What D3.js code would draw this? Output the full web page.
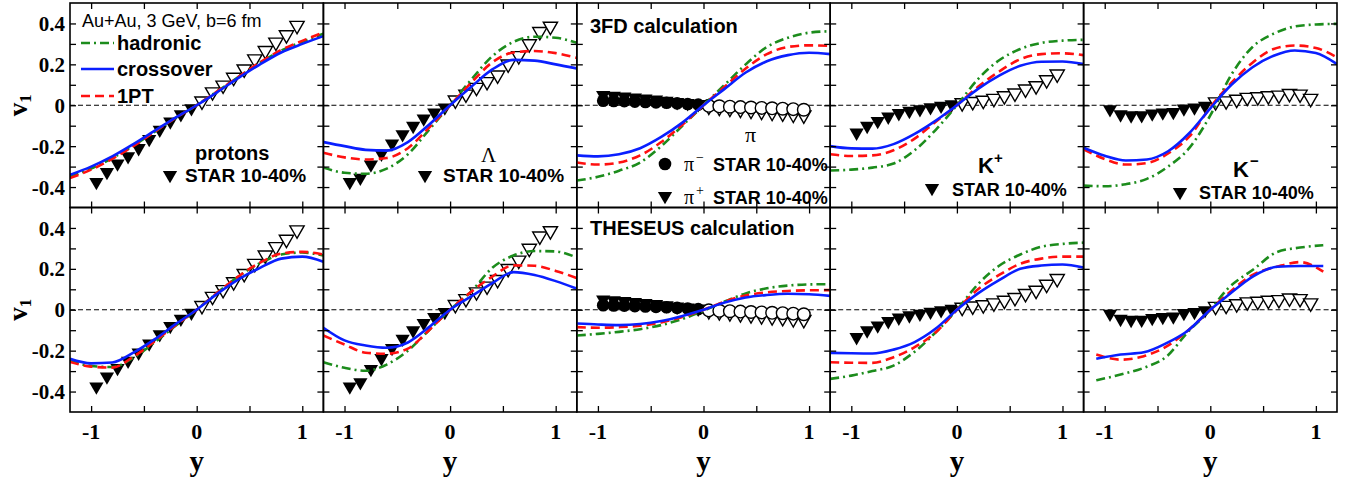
<!DOCTYPE html>
<html>
<head>
<meta charset="utf-8">
<script src="https://cdn.jsdelivr.net/npm/d3@7"></script>
<style>
  body { margin: 0; background: #fff; }
  svg { display: block; }
</style>
</head>
<body>
<svg id="chart" width="1361" height="480"></svg>
<script>
// rapidity grid of the model curves
const yGrid = [-1.2, -1.0, -0.8, -0.6, -0.4, -0.2, 0, 0.2, 0.4, 0.6, 0.8, 1.0, 1.2];
const yGridKmTh = [-1.08, -0.85, -0.63, -0.41, -0.22, 0, 0.16, 0.41, 0.63, 0.85, 1.07];

// 3FD curves (top row)
const prot3fdHad = [-0.35, -0.31, -0.258, -0.197, -0.13, -0.062, 0, 0.07, 0.14, 0.208, 0.267, 0.31, 0.35];
const prot3fdCross = [-0.34, -0.30, -0.25, -0.19, -0.125, -0.06, 0, 0.066, 0.135, 0.2, 0.258, 0.3, 0.338];
const prot3fd1pt = [-0.356, -0.315, -0.262, -0.2, -0.13, -0.062, 0, 0.07, 0.14, 0.21, 0.27, 0.315, 0.356];
const lam3fdHad = [-0.305, -0.33, -0.335, -0.31, -0.24, -0.12, 0, 0.125, 0.24, 0.31, 0.335, 0.33, 0.305];
const lam3fdCross = [-0.18, -0.2, -0.218, -0.222, -0.18, -0.095, 0, 0.09, 0.175, 0.222, 0.218, 0.2, 0.18];
const lam3fd1pt = [-0.232, -0.255, -0.265, -0.258, -0.21, -0.11, 0, 0.11, 0.21, 0.258, 0.265, 0.255, 0.232];
const pi3fdHad = [-0.368, -0.35, -0.32, -0.28, -0.2, -0.1, 0, 0.1, 0.2, 0.285, 0.33, 0.355, 0.362];
const pi3fdCross = [-0.245, -0.25, -0.24, -0.21, -0.155, -0.085, 0, 0.08, 0.16, 0.215, 0.245, 0.257, 0.25];
const pi3fd1pt = [-0.28, -0.29, -0.28, -0.245, -0.18, -0.095, 0, 0.09, 0.18, 0.25, 0.285, 0.293, 0.29];
const kp3fdHad = [-0.319, -0.315, -0.305, -0.285, -0.22, -0.12, 0, 0.128, 0.22, 0.275, 0.305, 0.316, 0.32];
const kp3fdCross = [-0.2, -0.211, -0.212, -0.19, -0.14, -0.075, 0, 0.08, 0.145, 0.193, 0.213, 0.214, 0.201];
const kp3fd1pt = [-0.24, -0.248, -0.245, -0.22, -0.163, -0.08, 0, 0.09, 0.165, 0.225, 0.25, 0.254, 0.245];
const km3fdHad = [-0.393, -0.396, -0.386, -0.36, -0.3, -0.21, -0.05, 0.15, 0.285, 0.35, 0.385, 0.395, 0.398];
const km3fdCross = [-0.208, -0.247, -0.27, -0.265, -0.225, -0.137, -0.015, 0.1, 0.186, 0.242, 0.268, 0.255, 0.201];
const km3fd1pt = [-0.216, -0.263, -0.29, -0.283, -0.236, -0.154, -0.01, 0.11, 0.208, 0.275, 0.292, 0.28, 0.234];

// THESEUS curves (bottom row)
const protThHad = [-0.25, -0.275, -0.28, -0.235, -0.16, -0.078, 0, 0.085, 0.165, 0.228, 0.27, 0.28, 0.265];
const protThCross = [-0.24, -0.262, -0.258, -0.21, -0.145, -0.07, 0, 0.08, 0.15, 0.205, 0.25, 0.26, 0.235];
const protTh1pt = [-0.255, -0.278, -0.283, -0.23, -0.155, -0.075, 0, 0.085, 0.165, 0.23, 0.275, 0.283, 0.27];
const lamThHad = [-0.257, -0.284, -0.298, -0.268, -0.2, -0.1, 0, 0.09, 0.205, 0.265, 0.287, 0.285, 0.255];
const lamThCross = [-0.088, -0.15, -0.175, -0.186, -0.16, -0.085, 0, 0.065, 0.13, 0.184, 0.17, 0.14, 0.103];
const lamTh1pt = [-0.126, -0.17, -0.21, -0.215, -0.19, -0.1, 0, 0.088, 0.162, 0.217, 0.215, 0.19, 0.155];
const piThHad = [-0.126, -0.118, -0.108, -0.095, -0.075, -0.045, -0.005, 0.04, 0.08, 0.105, 0.118, 0.124, 0.125];
const piThCross = [-0.067, -0.072, -0.075, -0.07, -0.055, -0.03, 0, 0.035, 0.06, 0.072, 0.078, 0.076, 0.068];
const piTh1pt = [-0.085, -0.088, -0.085, -0.078, -0.062, -0.035, 0, 0.04, 0.07, 0.085, 0.092, 0.095, 0.096];
const kpThHad = [-0.338, -0.322, -0.3, -0.273, -0.205, -0.11, 0, 0.125, 0.215, 0.27, 0.308, 0.322, 0.328];
const kpThCross = [-0.211, -0.213, -0.214, -0.195, -0.158, -0.092, 0, 0.08, 0.145, 0.2, 0.216, 0.221, 0.206];
const kpTh1pt = [-0.257, -0.259, -0.26, -0.232, -0.183, -0.11, 0, 0.1, 0.17, 0.225, 0.25, 0.26, 0.26];
const kmThHad = [-0.345, -0.317, -0.284, -0.227, -0.113, 0, 0.1, 0.198, 0.282, 0.304, 0.316];
const kmThCross = [-0.24, -0.219, -0.208, -0.162, -0.105, 0, 0.067, 0.165, 0.21, 0.214, 0.214];
const kmTh1pt = [-0.219, -0.244, -0.227, -0.178, -0.105, 0, 0.075, 0.173, 0.21, 0.233, 0.186];

// STAR 10-40% points: measured (y<0) and reflected (y>0)
const starY = [-0.95, -0.85, -0.75, -0.65, -0.55, -0.45, -0.35, -0.25, -0.15, -0.05];
const starYRefl = [0.05, 0.15, 0.25, 0.35, 0.45, 0.55, 0.65, 0.75, 0.85, 0.95];
const protonV1 = [-0.376, -0.327, -0.285, -0.25, -0.21, -0.165, -0.12, -0.08, -0.044, -0.015];
const protonV1Refl = [0.02, 0.065, 0.098, 0.136, 0.177, 0.226, 0.267, 0.308, 0.344, 0.39];
const lambdaV1 = [-0.376, -0.355, -0.29, -0.237, -0.187, -0.142, -0.101, -0.065, -0.036, -0.011];
const lambdaV1Refl = [0.025, 0.054, 0.087, 0.115, 0.147, 0.201, 0.242, 0.3, 0.36, 0.386];
const piMinusV1 = [0.022, 0.021, 0.02, 0.018, 0.016, 0.014, 0.012, 0.009, 0.006, 0.003];
const piMinusV1Refl = [-0.003, -0.005, -0.007, -0.009, -0.011, -0.013, -0.015, -0.017, -0.019, -0.022];
const piPlusV1 = [0.05, 0.046, 0.042, 0.037, 0.032, 0.027, 0.021, 0.015, 0.01, 0.005];
const piPlusV1Refl = [-0.005, -0.01, -0.015, -0.02, -0.025, -0.03, -0.035, -0.039, -0.044, -0.048];
const kPlusV1 = [-0.134, -0.101, -0.077, -0.056, -0.039, -0.028, -0.02, -0.01, -0.003, 0.004];
const kPlusV1Refl = [0.012, 0.018, 0.024, 0.033, 0.046, 0.059, 0.079, 0.095, 0.124, 0.152];
const kMinusV1 = [-0.02, -0.045, -0.05, -0.049, -0.041, -0.036, -0.033, -0.016, -0.011, -0.003];
const kMinusV1Refl = [0.016, 0.021, 0.029, 0.038, 0.041, 0.046, 0.049, 0.057, 0.054, 0.033];

const xTicks = [-1, -0.5, 0, 0.5, 1];
const xTickLabels = [-1, 0, 1];
const yTicks = [-0.4, -0.3, -0.2, -0.1, 0, 0.1, 0.2, 0.3, 0.4];
const yTickLabels = [-0.4, -0.2, 0, 0.2, 0.4];

const colors = { had: "#1c8c1c", cross: "#0a1fff", pt: "#ff1010" };
const dashes = { had: "9,4,2,4", cross: null, pt: "9,5" };

const svg = d3.select("#chart");
const left0 = 70, top0 = 3, panelW = 253.4, panelH = 204.5;
const serif = "'Liberation Serif', 'Times New Roman', serif";
const sans = "'Liberation Sans', Arial, sans-serif";

const zip = (xs, vs) => xs.map((d, i) => ({ y: d, v: vs[i] }));

const panels = [
  { row: 0, col: 0, grid: yGrid, had: prot3fdHad, cross: prot3fdCross, pt: prot3fd1pt,
    sets: [[protonV1, protonV1Refl, "tri"]] },
  { row: 0, col: 1, grid: yGrid, had: lam3fdHad, cross: lam3fdCross, pt: lam3fd1pt,
    sets: [[lambdaV1, lambdaV1Refl, "tri"]] },
  { row: 0, col: 2, grid: yGrid, had: pi3fdHad, cross: pi3fdCross, pt: pi3fd1pt,
    sets: [[piPlusV1, piPlusV1Refl, "tri"], [piMinusV1, piMinusV1Refl, "circ"]] },
  { row: 0, col: 3, grid: yGrid, had: kp3fdHad, cross: kp3fdCross, pt: kp3fd1pt,
    sets: [[kPlusV1, kPlusV1Refl, "tri"]] },
  { row: 0, col: 4, grid: yGrid, had: km3fdHad, cross: km3fdCross, pt: km3fd1pt,
    sets: [[kMinusV1, kMinusV1Refl, "tri"]] },
  { row: 1, col: 0, grid: yGrid, had: protThHad, cross: protThCross, pt: protTh1pt,
    sets: [[protonV1, protonV1Refl, "tri"]] },
  { row: 1, col: 1, grid: yGrid, had: lamThHad, cross: lamThCross, pt: lamTh1pt,
    sets: [[lambdaV1, lambdaV1Refl, "tri"]] },
  { row: 1, col: 2, grid: yGrid, had: piThHad, cross: piThCross, pt: piTh1pt,
    sets: [[piPlusV1, piPlusV1Refl, "tri"], [piMinusV1, piMinusV1Refl, "circ"]] },
  { row: 1, col: 3, grid: yGrid, had: kpThHad, cross: kpThCross, pt: kpTh1pt,
    sets: [[kPlusV1, kPlusV1Refl, "tri"]] },
  { row: 1, col: 4, grid: yGridKmTh, had: kmThHad, cross: kmThCross, pt: kmTh1pt,
    sets: [[kMinusV1, kMinusV1Refl, "tri"]] },
];

const triSym = d3.symbol().type(d3.symbolTriangle).size(88);
const circSym = d3.symbol().type(d3.symbolCircle).size(125);

panels.forEach((p, i) => {
  const x0 = left0 + p.col * panelW, y0 = top0 + p.row * panelH;
  const x = d3.scaleLinear().domain([-1.2, 1.2]).range([x0, x0 + panelW]);
  const y = d3.scaleLinear().domain([-0.5, 0.5]).range([y0 + panelH, y0]);
  const g = svg.append("g");

  svg.append("clipPath").attr("id", "clip" + i)
    .append("rect").attr("x", x0).attr("y", y0).attr("width", panelW).attr("height", panelH);

  // zero line
  g.append("line")
    .attr("x1", x(-1.2)).attr("x2", x(1.2))
    .attr("y1", y(0)).attr("y2", y(0))
    .attr("stroke", "#000").attr("stroke-width", 1.2)
    .attr("stroke-dasharray", "5,3");

  // STAR points
  p.sets.forEach(([meas, refl, kind]) => {
    const sym = kind === "tri" ? triSym : circSym;
    const rot = kind === "tri" ? " rotate(180)" : "";
    g.selectAll(null).data(zip(starY, meas)).join("path")
      .attr("d", sym)
      .attr("transform", (d) => `translate(${x(d.y)},${y(d.v)})${rot}`)
      .attr("fill", "#000");
    g.selectAll(null).data(zip(starYRefl, refl)).join("path")
      .attr("d", sym)
      .attr("transform", (d) => `translate(${x(d.y)},${y(d.v)})${rot}`)
      .attr("fill", "#fff").attr("stroke", "#000").attr("stroke-width", 1.4);
  });

  // model curves
  const line = d3.line().x((d) => x(d.y)).y((d) => y(d.v)).curve(d3.curveMonotoneX);
  ["had", "pt", "cross"].forEach((k) => {
    g.append("path")
      .datum(zip(p.grid, p[k]))
      .attr("clip-path", `url(#clip${i})`)
      .attr("fill", "none")
      .attr("stroke", colors[k])
      .attr("stroke-width", 2.6)
      .attr("stroke-dasharray", dashes[k])
      .attr("d", line);
  });

  // inward ticks on all four sides
  const tickStyle = (a) => a.call((s) => s.select(".domain").remove())
    .call((s) => s.selectAll(".tick line").attr("stroke", "#000").attr("stroke-width", 1.3));
  g.append("g").attr("transform", `translate(0,${y0})`)
    .call(d3.axisBottom(x).tickValues(xTicks).tickSize(6).tickFormat("")).call(tickStyle);
  g.append("g").attr("transform", `translate(0,${y0 + panelH})`)
    .call(d3.axisTop(x).tickValues(xTicks).tickSize(6).tickFormat("")).call(tickStyle);
  g.append("g").attr("transform", `translate(${x0},0)`)
    .call(d3.axisRight(y).tickValues(yTicks).tickSize(6).tickFormat("")).call(tickStyle);
  g.append("g").attr("transform", `translate(${x0 + panelW},0)`)
    .call(d3.axisLeft(y).tickValues(yTicks).tickSize(6).tickFormat("")).call(tickStyle);

  // frame
  g.append("rect").attr("x", x0).attr("y", y0).attr("width", panelW).attr("height", panelH)
    .attr("fill", "none").attr("stroke", "#000").attr("stroke-width", 1.6);

  // tick labels
  if (p.col === 0) {
    g.selectAll(null).data(yTickLabels).join("text")
      .attr("x", x0 - 5).attr("y", (d) => y(d)).attr("dy", "0.36em")
      .attr("text-anchor", "end")
      .attr("font-family", serif).attr("font-weight", "bold").attr("font-size", 21)
      .text((d) => (d === 0 ? "0" : d.toFixed(1)));
    const vl = g.append("text")
      .attr("transform", `translate(27,${y(0)}) rotate(-90)`)
      .attr("text-anchor", "middle")
      .attr("font-family", serif).attr("font-weight", "bold").attr("font-size", 27);
    vl.append("tspan").text("v");
    vl.append("tspan").attr("font-size", 17).attr("dy", 4).text("1");
  }
  if (p.row === 1) {
    g.selectAll(null).data(xTickLabels).join("text")
      .attr("x", (d) => x(d)).attr("y", 439)
      .attr("text-anchor", "middle")
      .attr("font-family", serif).attr("font-weight", "bold").attr("font-size", 22)
      .text((d) => String(d));
    g.append("text")
      .attr("x", x(0)).attr("y", 471)
      .attr("text-anchor", "middle")
      .attr("font-family", serif).attr("font-weight", "bold").attr("font-size", 29)
      .text("y");
  }
});

// legends and labels
const txt = (x, y, s, opts = {}) =>
  svg.append("text").attr("x", x).attr("y", y)
    .attr("font-family", opts.family || sans)
    .attr("font-weight", opts.weight || "bold")
    .attr("font-size", opts.size || 19)
    .text(s);
const marker = (x, y, kind) =>
  svg.append("path")
    .attr("d", kind === "tri" ? triSym : circSym)
    .attr("transform", `translate(${x},${y})${kind === "tri" ? " rotate(180)" : ""}`)
    .attr("fill", "#000");

txt(82, 27, "Au+Au, 3 GeV, b=6 fm", { weight: "normal", size: 18 });
[["had", "hadronic", 43], ["cross", "crossover", 69], ["pt", "1PT", 96]].forEach(([k, label, ly]) => {
  svg.append("line").attr("x1", 81).attr("x2", 114).attr("y1", ly).attr("y2", ly)
    .attr("stroke", colors[k]).attr("stroke-width", 2.6).attr("stroke-dasharray", dashes[k]);
  txt(117, ly + 7, label, { size: 20 });
});

txt(195, 160, "protons", { size: 20 });
marker(170, 175, "tri");
txt(185, 182, "STAR 10-40%");

txt(481, 162, "Λ", { family: serif, weight: "normal", size: 21 });
marker(425, 175, "tri");
txt(443, 182, "STAR 10-40%");

txt(590, 33, "3FD calculation", { size: 20 });
txt(745, 142, "π", { family: serif, weight: "normal", size: 22 });
marker(665, 164, "circ");
txt(684, 171, "π", { family: serif, weight: "normal", size: 20 });
txt(696, 162, "−", { family: serif, weight: "normal", size: 14 });
txt(713, 171, "STAR 10-40%", { size: 18 });
marker(665, 196, "tri");
txt(684, 204, "π", { family: serif, weight: "normal", size: 20 });
txt(696, 195, "+", { family: serif, weight: "normal", size: 14 });
txt(713, 204, "STAR 10-40%", { size: 18 });

txt(978, 173, "K", { size: 22 });
txt(994, 163, "+", { size: 15 });
marker(932, 188, "tri");
txt(952, 196, "STAR 10-40%", { size: 18 });

txt(1233, 177, "K", { size: 22 });
txt(1250, 166, "−", { size: 15 });
marker(1180, 192, "tri");
txt(1199, 199, "STAR 10-40%", { size: 18 });

txt(590, 235, "THESEUS calculation", { size: 20 });
</script>
</body>
</html>
